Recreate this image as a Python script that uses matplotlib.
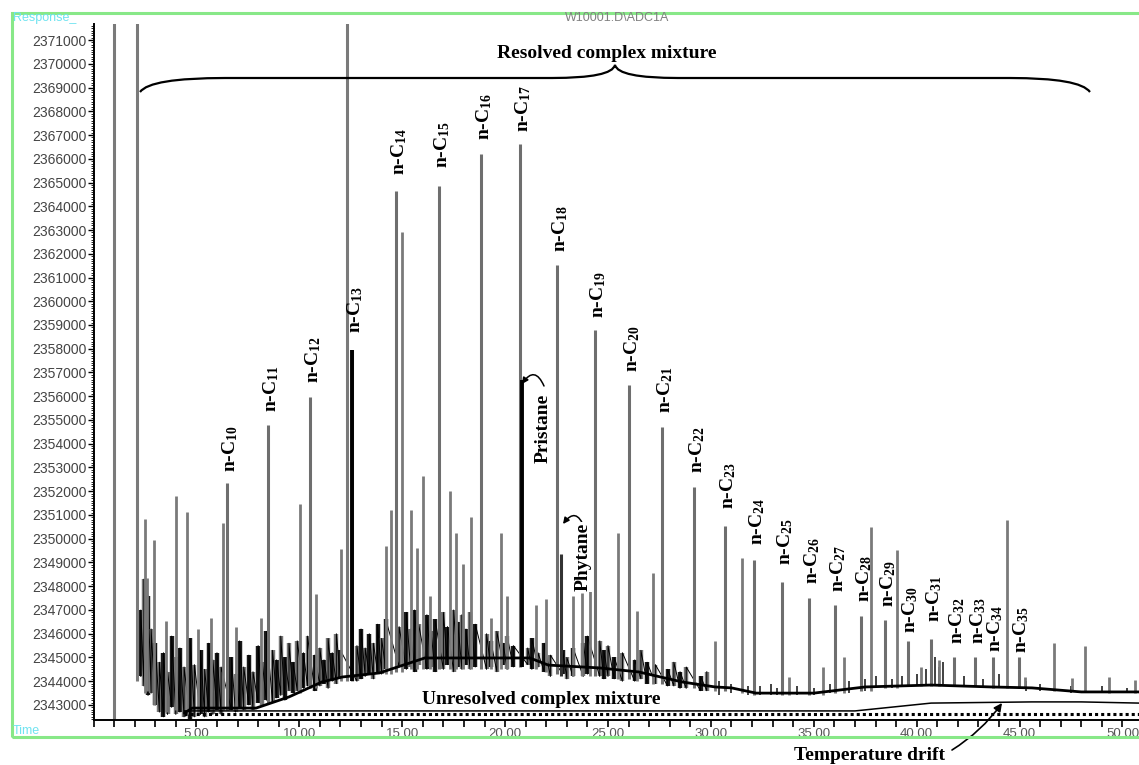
import numpy as np
import matplotlib
matplotlib.use('Agg')
import matplotlib.pyplot as plt
from matplotlib.path import Path
from matplotlib.patches import PathPatch, Rectangle
from matplotlib.ticker import MultipleLocator, FuncFormatter

W, H = 1139, 765

plt.rcParams['mathtext.fontset'] = 'custom'
plt.rcParams['mathtext.rm'] = 'Liberation Serif:bold'
plt.rcParams['mathtext.it'] = 'Liberation Serif:italic:bold'
plt.rcParams['mathtext.bf'] = 'Liberation Serif:bold'
plt.rcParams['mathtext.default'] = 'rm'

# ---- data: retention time (min), response in thousands ----
alkane_c = list(range(10, 36))
alkane_t = [6.50, 8.50, 10.53, 12.57, 14.71, 16.80, 18.83, 20.73, 22.52, 24.37,
            26.02, 27.62, 29.17, 30.68, 32.09, 33.45, 34.76, 36.02, 37.28, 38.45,
            39.56, 40.68, 41.80, 42.82, 43.69, 44.95]
alkane_top = [2352.35, 2354.79, 2355.97, 2357.95, 2364.64, 2364.85, 2366.20, 2366.62, 2361.53, 2358.79,
              2356.47, 2354.71, 2352.18, 2350.54, 2349.11, 2348.18, 2347.51, 2347.21, 2346.75, 2346.58,
              2345.69, 2345.78, 2345.02, 2345.02, 2345.02, 2345.02]
alkane_base = [2342.8, 2343.1, 2343.7, 2344.0, 2344.4, 2344.5, 2344.5, 2344.6, 2344.3, 2344.2,
               2344.1, 2343.9, 2343.7, 2343.6, 2343.4, 2343.4, 2343.4, 2343.5, 2343.6, 2343.7,
               2343.8, 2343.8, 2343.8, 2343.8, 2343.7, 2343.7]

pristane = (20.83, 2356.68, 2344.6)
phytane = (22.72, 2349.36, 2344.2)

# off-scale peaks (solvent etc.)
big_t = [1.02, 2.09, 12.33]
big_top = [2372.5, 2372.5, 2372.5]
big_base = [2342.37, 2344.0, 2344.0]

other_t = [2.52, 2.62, 2.96, 3.50, 4.03, 4.56, 5.10, 5.73, 6.31, 6.94,
           8.16, 10.05, 10.83, 12.04, 14.22, 14.47, 15.00, 15.44, 15.73, 16.02,
           16.36, 17.33, 17.62, 17.96, 18.35, 19.32, 19.81, 20.10, 21.50, 21.99,
           23.30, 23.74, 24.13, 25.49, 26.41, 27.18, 30.19, 31.50, 33.79, 35.44,
           36.46, 37.77, 39.03, 40.19, 41.07, 44.37, 45.24, 46.65, 47.57, 48.16,
           49.32, 50.63]
other_top = [2350.83, 2348.35, 2349.95, 2346.54, 2351.80, 2351.13, 2346.20, 2346.66, 2350.66, 2346.28,
             2346.66, 2351.46, 2347.67, 2349.57, 2349.69, 2351.21, 2362.92, 2351.21, 2349.61, 2352.64,
             2347.59, 2352.01, 2350.24, 2348.94, 2350.92, 2346.66, 2350.24, 2347.59, 2347.21, 2347.46,
             2347.59, 2347.72, 2348.14, 2350.24, 2346.96, 2348.56, 2345.69, 2349.19, 2344.18, 2344.60,
             2345.02, 2350.49, 2349.53, 2344.60, 2344.89, 2350.79, 2344.18, 2345.61, 2344.14, 2345.48,
             2344.18, 2344.05]
other_base = [2343.5, 2343.6, 2343.0, 2342.7, 2342.8, 2342.6, 2342.6, 2342.7, 2342.8, 2342.8,
              2343.0, 2343.5, 2343.7, 2344.0, 2344.3, 2344.3, 2344.4, 2344.5, 2344.5, 2344.5,
              2344.5, 2344.5, 2344.5, 2344.5, 2344.5, 2344.5, 2344.5, 2344.5, 2344.5, 2344.4,
              2344.2, 2344.2, 2344.2, 2344.1, 2344.0, 2343.9, 2343.6, 2343.5, 2343.4, 2343.4,
              2343.5, 2343.6, 2343.7, 2343.8, 2343.8, 2343.7, 2343.7, 2343.6, 2343.6, 2343.6,
              2343.5, 2343.5]

# small unresolved "grass"
grass_t = [2.30, 2.45, 2.65, 2.80, 3.00, 3.20, 3.40, 3.60, 3.80, 4.00, 4.20, 4.40, 4.70, 4.90,
           5.20, 5.40, 5.60, 5.80, 6.00, 6.20, 6.70, 6.90, 7.10, 7.30, 7.55, 7.75,
           8.00, 8.20, 8.40, 8.70, 8.90, 9.10, 9.30, 9.50, 9.70, 9.90,
           10.20, 10.40, 10.75, 11.00, 11.20, 11.40, 11.60, 11.80, 12.00,
           12.80, 13.00, 13.20, 13.40, 13.60, 13.80, 14.00, 14.20, 14.85,
           15.20, 15.40, 15.60, 15.80, 16.20, 16.40, 16.60, 17.00, 17.20, 17.50, 17.70, 17.90,
           18.10, 18.30, 18.55, 19.10, 19.30, 19.60, 19.90, 20.10, 20.40, 21.10, 21.30, 21.60, 21.90,
           22.20, 22.80, 23.00, 23.30, 23.80, 24.00, 24.60, 24.80, 25.00, 25.30, 25.70, 26.30, 26.60, 26.90,
           27.30, 27.90, 28.20, 28.50, 28.80, 29.50, 29.80, 30.40,
           31.00, 31.80, 32.40, 32.90, 33.20, 34.20, 35.00, 35.80, 36.70, 37.50, 38.00, 38.80,
           39.30, 40.00, 40.45, 40.90, 41.10, 41.30, 42.30, 43.20, 44.00, 45.30, 46.00, 47.50,
           49.00, 50.20]
grass_top = [2347.0, 2348.3, 2347.6, 2346.2, 2345.6, 2344.8, 2345.2, 2344.4, 2345.9, 2345.0, 2345.4, 2344.6, 2345.8, 2344.7,
             2345.3, 2344.5, 2345.6, 2344.9, 2345.2, 2344.6, 2345.0, 2344.3, 2345.7, 2344.6, 2345.1, 2344.4,
             2345.5, 2344.8, 2346.1, 2345.3, 2344.9, 2345.9, 2345.0, 2345.6, 2344.8, 2345.7,
             2345.2, 2345.9, 2345.1, 2345.4, 2344.9, 2345.8, 2345.2, 2346.0, 2345.3,
             2345.5, 2346.2, 2345.4, 2346.0, 2345.6, 2346.4, 2345.8, 2346.6, 2346.3,
             2346.9, 2346.2, 2347.0, 2346.4, 2346.8, 2346.1, 2346.6, 2346.9, 2346.3, 2347.0, 2346.5, 2346.8,
             2346.2, 2346.9, 2346.4, 2346.0, 2345.7, 2346.1, 2345.6, 2345.9, 2345.5, 2345.4, 2345.8, 2345.2, 2345.6,
             2345.1, 2345.3, 2345.0, 2345.4, 2345.6, 2345.9, 2345.7, 2345.3, 2345.5, 2345.0, 2345.2, 2344.9, 2345.3, 2344.8,
             2344.7, 2344.5, 2344.8, 2344.4, 2344.6, 2344.2, 2344.4, 2344.0,
             2343.9, 2343.8, 2343.8, 2343.9, 2343.7, 2343.8, 2343.7, 2343.9, 2344.0, 2344.1, 2344.2, 2344.1,
             2344.2, 2344.3, 2344.5, 2345.0, 2344.6, 2344.8, 2344.2, 2344.1, 2344.3, 2344.0, 2343.9, 2343.8,
             2343.8, 2343.7]
grass_low = [2344.2, 2343.8, 2343.4, 2343.5, 2343.0, 2342.7, 2342.5, 2342.6, 2342.9, 2342.6, 2342.7, 2342.5, 2342.4, 2342.5,
             2342.6, 2342.5, 2342.7, 2342.6, 2342.8, 2342.6, 2342.8, 2342.7, 2342.9, 2342.8, 2343.0, 2342.8,
             2343.1, 2343.0, 2343.2, 2343.1, 2343.3, 2343.4, 2343.2, 2343.6, 2343.5, 2343.6,
             2343.7, 2343.8, 2343.6, 2343.8, 2343.9, 2343.7, 2344.0, 2343.9, 2344.1,
             2344.0, 2344.1, 2344.2, 2344.3, 2344.1, 2344.4, 2344.3, 2344.5, 2344.6,
             2344.5, 2344.6, 2344.4, 2344.7, 2344.5, 2344.6, 2344.4, 2344.5, 2344.7, 2344.4, 2344.6, 2344.5,
             2344.7, 2344.5, 2344.6, 2344.5, 2344.6, 2344.4, 2344.7, 2344.5, 2344.6, 2344.7, 2344.5, 2344.6, 2344.4,
             2344.2, 2344.3, 2344.1, 2344.2, 2344.2, 2344.3, 2344.2, 2344.1, 2344.2, 2344.1, 2344.0, 2344.0, 2344.1, 2343.9,
             2343.9, 2343.8, 2343.8, 2343.7, 2343.7, 2343.6, 2343.6, 2343.4,
             2343.5, 2343.4, 2343.4, 2343.4, 2343.4, 2343.4, 2343.4, 2343.5, 2343.5, 2343.6, 2343.7, 2343.7,
             2343.8, 2343.8, 2343.8, 2343.9, 2343.9, 2343.9, 2343.8, 2343.8, 2343.7, 2343.6, 2343.6, 2343.5,
             2343.5, 2343.5]

# unresolved complex mixture hump
ucm_t = [4.42, 4.80, 7.90, 9.50, 11.10, 12.10, 13.90, 16.10, 21.20, 22.10, 24.60, 26.50,
         28.60, 30.20, 31.00, 32.20, 35.00, 37.50, 40.70, 43.60, 45.60, 48.00, 50.80]
ucm_v = [2342.66, 2342.87, 2342.87, 2343.34, 2343.97, 2344.18, 2344.35, 2344.98, 2344.98, 2344.68,
         2344.56, 2344.39, 2343.97, 2343.76, 2343.72, 2343.50, 2343.50, 2343.76, 2343.84, 2343.76,
         2343.72, 2343.55, 2343.55]

# temperature drift
drift_t = [4.42, 37.00, 40.70, 45.60, 48.00, 50.80]
drift_v = [2342.75, 2342.75, 2343.08, 2343.13, 2343.13, 2343.08]
zero_t = [4.42, 50.80]
zero_v = [2342.60, 2342.60]

# label offsets above peaks (pixels)
label_gap = [11, 13, 14, 17, 16, 18, 14, 12, 13, 12, 13, 14, 14, 17, 15, 17, 14, 13, 14, 13, 8, 17, 13, 13, 5, 4]

K = 1000.0
SERIF = 'Liberation Serif'


def px(x, y):
    # image pixel position -> figure fraction
    return (x / W, 1 - y / H)


fig = plt.figure(figsize=(W / 100, H / 100), dpi=100)
fig.patch.set_facecolor('white')
ax = fig.add_axes([93.5 / W, (H - 720) / H, (W - 93.5) / W, (720 - 24) / H])
ax.set_xlim(0, (W - 93.5) / 20.58)
ax.set_ylim(2342368, 2371674)

# grass: dense sticks in the early part, thin sticks later, thin trace through the early part
gt = np.array(grass_t)
split = np.searchsorted(gt, 30.0)
glow = np.array(grass_low) * K
gtop = np.array(grass_top) * K
gcol = ['#1a1a1a' if i % 2 == 0 else '#777777' for i in range(len(grass_t))]
ax.vlines(gt[:split], glow[:split], gtop[:split], colors=gcol[:split], lw=3.2)
ax.vlines(gt[split:], glow[split:], gtop[split:], colors='#333333', lw=1.3)
zx = np.repeat(gt[:split], 2)
zy = np.column_stack([glow[:split], gtop[:split]]).ravel()
ax.plot(zx, zy, color='black', lw=0.7)

# peaks
ax.vlines(big_t, np.array(big_base) * K, np.array(big_top) * K, colors='#7a7a7a', lw=2.2)
ax.vlines(other_t, np.array(other_base) * K, np.array(other_top) * K, colors='#7a7a7a', lw=2.0)
ax.vlines(alkane_t, np.array(alkane_base) * K, np.array(alkane_top) * K, colors='#6e6e6e', lw=2.2)
ax.vlines([alkane_t[3], pristane[0]], [alkane_base[3] * K, pristane[2] * K],
          [alkane_top[3] * K, pristane[1] * K], colors='black', lw=2.8)
ax.vlines([phytane[0]], [phytane[2] * K], [phytane[1] * K], colors='#333333', lw=2.2)

# hump, drift, zero line
ax.plot(ucm_t, np.array(ucm_v) * K, color='black', lw=2.0, solid_capstyle='round')
ax.plot(drift_t, np.array(drift_v) * K, color='black', lw=1.1)
ax.plot(zero_t, np.array(zero_v) * K, color='black', lw=2.2, linestyle=(0, (1, 1)))

# axes style
for s in ['top', 'right']:
    ax.spines[s].set_visible(False)
for s in ['left', 'bottom']:
    ax.spines[s].set_linewidth(1.4)
    ax.spines[s].set_color('black')
ax.xaxis.set_major_locator(MultipleLocator(5))
ax.xaxis.set_minor_locator(MultipleLocator(1))
ax.xaxis.set_major_formatter(FuncFormatter(lambda v, p: f'{v:.2f}' if v > 0.5 else ''))
ax.yaxis.set_major_locator(MultipleLocator(1000))
ax.yaxis.set_minor_locator(MultipleLocator(100))
ax.yaxis.set_major_formatter(FuncFormatter(lambda v, p: f'{int(round(v))}' if v > 2342800 else ''))
ax.tick_params(axis='x', which='both', direction='out', length=5, width=1.2, pad=1,
               labelsize=9.5, labelcolor='#555555')
ax.tick_params(axis='y', which='major', direction='out', length=4, width=1.0, pad=1,
               labelsize=10, labelcolor='#444444')
ax.tick_params(axis='y', which='minor', direction='out', length=2, width=0.6)
for lab in ax.get_xticklabels() + ax.get_yticklabels():
    lab.set_fontfamily('Liberation Sans')

# n-alkane labels
for c, t, top, gap in zip(alkane_c, alkane_t, alkane_top, label_gap):
    ax.annotate(f'n-C$_{{{c}}}$', xy=(t, top * K), xytext=(3, gap), textcoords='offset pixels',
                rotation=90, ha='center', va='bottom', fontsize=14, fontweight='bold', family=SERIF)

# frame and header texts
fig.add_artist(Rectangle(px(12, 737), (W - 12 + 20) / W, (737 - 13) / H, transform=fig.transFigure,
                         fill=False, ec='#88e888', lw=2.2, clip_on=False))
fig.text(*px(13, 18), 'Response_', color='#6fe3f0', fontsize=9, va='center', ha='left',
         family='Liberation Sans')
fig.text(*px(13, 731), 'Time', color='#6fe3f0', fontsize=9, va='center', ha='left',
         family='Liberation Sans')
fig.text(*px(617, 18), 'W10001.D\\ADC1A', color='#808080', fontsize=9, va='center', ha='center',
         family='Liberation Sans')

# brace over the resolved peaks
verts = [px(140, 92), px(150, 78), px(225, 78), px(552, 78), px(612, 78), px(615, 65),
         px(618, 78), px(678, 78), px(1010, 78), px(1080, 78), px(1090, 92)]
codes = [Path.MOVETO, Path.CURVE3, Path.CURVE3, Path.LINETO, Path.CURVE3, Path.CURVE3,
         Path.CURVE3, Path.CURVE3, Path.LINETO, Path.CURVE3, Path.CURVE3]
fig.add_artist(PathPatch(Path(verts, codes), transform=fig.transFigure, fill=False,
                         ec='black', lw=1.6))

fig.text(*px(607, 53), 'Resolved complex mixture', fontsize=14, fontweight='bold', family=SERIF,
         ha='center', va='center')
fig.text(*px(541, 699), 'Unresolved complex mixture', fontsize=14, fontweight='bold', family=SERIF,
         ha='center', va='center')
fig.text(*px(869, 755), 'Temperature drift', fontsize=14, fontweight='bold', family=SERIF,
         ha='center', va='center')

fig.text(*px(543, 463), 'Pristane', rotation=90, fontsize=14, fontweight='bold', family=SERIF,
         ha='center', va='bottom', bbox=dict(fc='white', ec='none', pad=0.5))
fig.text(*px(583, 591), 'Phytane', rotation=90, fontsize=14, fontweight='bold', family=SERIF,
         ha='center', va='bottom', bbox=dict(fc='white', ec='none', pad=0.5))

arrow = dict(arrowstyle='-|>', color='black', lw=1.1, mutation_scale=9, shrinkA=0, shrinkB=0)
ax.annotate('', xy=px(522, 384), xytext=px(544, 386), xycoords='figure fraction',
            textcoords='figure fraction', arrowprops=dict(arrow, connectionstyle='arc3,rad=0.9'))
ax.annotate('', xy=px(563, 524), xytext=px(584, 527), xycoords='figure fraction',
            textcoords='figure fraction', arrowprops=dict(arrow, connectionstyle='arc3,rad=0.9'))
ax.annotate('', xy=px(1002, 703), xytext=px(952, 750), xycoords='figure fraction',
            textcoords='figure fraction',
            arrowprops=dict(arrow, lw=1.2, mutation_scale=12, connectionstyle='arc3,rad=0.1'))

fig.savefig('out.png', dpi=100, facecolor='white')
